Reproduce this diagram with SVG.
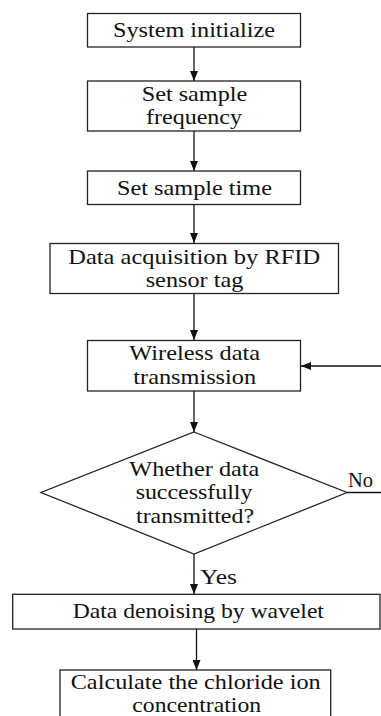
<svg xmlns="http://www.w3.org/2000/svg" width="381" height="716" viewBox="0 0 381 716">
<style>
.box{fill:#fff;stroke:#222;stroke-width:1.3}
.ln{fill:none;stroke:#111;stroke-width:1.3}
text{font-family:"Liberation Serif","Times New Roman",serif;font-size:21.5px;fill:#111;text-anchor:middle}
</style>
<defs>
<marker id="ah" viewBox="0 0 10 8" refX="10" refY="4" markerWidth="10" markerHeight="8" markerUnits="userSpaceOnUse" orient="auto">
<path d="M0,0 L10,4 L0,8 Z" fill="#111"/>
</marker>
</defs>
<rect width="381" height="716" fill="#fff"/>
<g id="connectors">
<line class="ln" x1="194" y1="47" x2="194" y2="81" marker-end="url(#ah)"/>
<line class="ln" x1="194" y1="131" x2="194" y2="171" marker-end="url(#ah)"/>
<line class="ln" x1="194" y1="204" x2="194" y2="243" marker-end="url(#ah)"/>
<line class="ln" x1="194" y1="293" x2="194" y2="340" marker-end="url(#ah)"/>
<line class="ln" x1="194" y1="391" x2="194" y2="432" marker-end="url(#ah)"/>
<line class="ln" x1="381" y1="366" x2="301" y2="366" marker-end="url(#ah)"/>
<line class="ln" x1="347" y1="492.5" x2="381" y2="492.5"/>
<line class="ln" x1="194" y1="554" x2="194" y2="594" marker-end="url(#ah)"/>
<line class="ln" x1="196.5" y1="629" x2="196.5" y2="670" marker-end="url(#ah)"/>
<text x="360.5" y="487" textLength="25" lengthAdjust="spacingAndGlyphs">No</text>
<text x="218.5" y="583.5" textLength="37" lengthAdjust="spacingAndGlyphs">Yes</text>
</g>
<g id="n1">
<rect class="box" x="87.5" y="13.5" width="213" height="33.5"/>
<text x="194" y="37" textLength="162" lengthAdjust="spacingAndGlyphs">System initialize</text>
</g>
<g id="n2">
<rect class="box" x="87.5" y="81" width="213" height="50"/>
<text x="194.5" y="101" textLength="105.6" lengthAdjust="spacingAndGlyphs">Set sample</text>
<text x="194" y="124" textLength="96" lengthAdjust="spacingAndGlyphs">frequency</text>
</g>
<g id="n3">
<rect class="box" x="87.5" y="171" width="213" height="33.5"/>
<text x="194.5" y="195" textLength="155" lengthAdjust="spacingAndGlyphs">Set sample time</text>
</g>
<g id="n4">
<rect class="box" x="50" y="243.5" width="288.5" height="50"/>
<text x="194.2" y="263.5" textLength="251.7" lengthAdjust="spacingAndGlyphs">Data acquisition by RFID</text>
<text x="194.5" y="287" textLength="97.6" lengthAdjust="spacingAndGlyphs">sensor tag</text>
</g>
<g id="n5">
<rect class="box" x="87.5" y="340.5" width="213" height="50.5"/>
<text x="194.7" y="360.3" textLength="130.7" lengthAdjust="spacingAndGlyphs">Wireless data</text>
<text x="194.7" y="383.5" textLength="122.7" lengthAdjust="spacingAndGlyphs">transmission</text>
</g>
<g id="n6">
<polygon class="box" points="194,432 347,492.5 194,554 41,492.5"/>
<text x="194.3" y="476" textLength="130" lengthAdjust="spacingAndGlyphs">Whether data</text>
<text x="194" y="499.3" textLength="116.7" lengthAdjust="spacingAndGlyphs">successfully</text>
<text x="195" y="522.5" textLength="118" lengthAdjust="spacingAndGlyphs">transmitted?</text>
</g>
<g id="n7">
<rect class="box" x="12.7" y="594.3" width="367.3" height="34.7"/>
<text x="198.3" y="617.5" textLength="251.3" lengthAdjust="spacingAndGlyphs">Data denoising by wavelet</text>
</g>
<g id="n8">
<rect class="box" x="60" y="670" width="270.7" height="60"/>
<text x="195.7" y="689.3" textLength="250" lengthAdjust="spacingAndGlyphs">Calculate the chloride ion</text>
<text x="196.7" y="712" textLength="128.7" lengthAdjust="spacingAndGlyphs">concentration</text>
</g>
</svg>
